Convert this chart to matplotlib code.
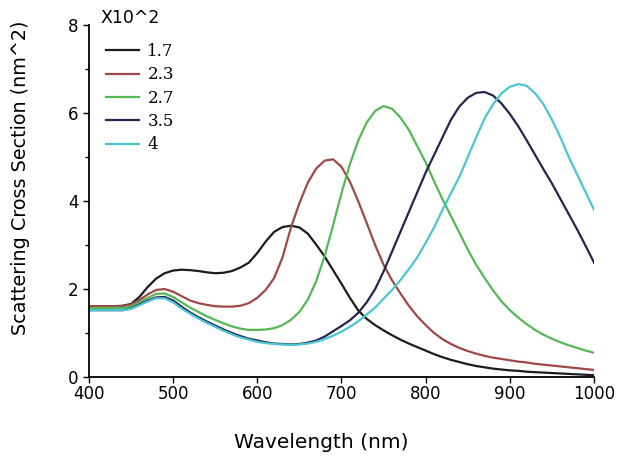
import numpy as np
import matplotlib
matplotlib.use("Agg")
import matplotlib.pyplot as plt
from matplotlib.ticker import MultipleLocator

plt.rcParams['font.family'] = ['DejaVu Sans']

# wavelength grid (nm)
wl = np.arange(400, 1001, 10)

s17 = [1.61, 1.61, 1.61, 1.61, 1.62, 1.66, 1.82, 2.05, 2.24, 2.36,
       2.42, 2.44, 2.43, 2.41, 2.38, 2.36, 2.37, 2.41, 2.49, 2.60,
       2.82, 3.08, 3.30, 3.41, 3.44, 3.40, 3.26, 3.01, 2.74, 2.43,
       2.12, 1.80, 1.51, 1.32, 1.18, 1.06, 0.95, 0.85, 0.76, 0.68,
       0.60, 0.52, 0.45, 0.39, 0.34, 0.29, 0.25, 0.22, 0.19, 0.17,
       0.15, 0.14, 0.12, 0.11, 0.10, 0.09, 0.08, 0.07, 0.06, 0.05, 0.04]
s23 = [1.61, 1.61, 1.61, 1.61, 1.61, 1.65, 1.75, 1.88, 1.98, 2.00,
       1.94, 1.84, 1.74, 1.68, 1.64, 1.61, 1.60, 1.60, 1.62, 1.68,
       1.80, 1.98, 2.25, 2.72, 3.40, 3.95, 4.42, 4.74, 4.92, 4.95,
       4.78, 4.44, 3.99, 3.50, 3.00, 2.55, 2.20, 1.90, 1.62, 1.38,
       1.18, 1.00, 0.86, 0.75, 0.66, 0.59, 0.53, 0.48, 0.44, 0.41,
       0.38, 0.35, 0.33, 0.30, 0.28, 0.26, 0.24, 0.22, 0.20, 0.18, 0.16]
s27 = [1.57, 1.57, 1.57, 1.57, 1.57, 1.60, 1.70, 1.80, 1.89, 1.90,
       1.82, 1.70, 1.58, 1.48, 1.38, 1.30, 1.22, 1.15, 1.10, 1.07,
       1.07, 1.08, 1.11, 1.18, 1.30, 1.48, 1.76, 2.18, 2.75, 3.45,
       4.18, 4.84, 5.38, 5.79, 6.05, 6.16, 6.10, 5.90, 5.62, 5.25,
       4.88, 4.45, 4.04, 3.66, 3.28, 2.90, 2.55, 2.25, 1.97, 1.72,
       1.52, 1.35, 1.20, 1.07, 0.96, 0.87, 0.79, 0.72, 0.66, 0.60, 0.55]
s35 = [1.52, 1.52, 1.52, 1.52, 1.52, 1.56, 1.65, 1.74, 1.81, 1.82,
       1.74, 1.60, 1.47, 1.36, 1.26, 1.17, 1.08, 1.00, 0.93, 0.87,
       0.83, 0.79, 0.76, 0.75, 0.74, 0.75, 0.78, 0.83, 0.92, 1.04,
       1.16, 1.29, 1.46, 1.70, 2.00, 2.40, 2.85, 3.30, 3.75, 4.20,
       4.65, 5.05, 5.45, 5.85, 6.15, 6.35, 6.46, 6.48, 6.40, 6.22,
       5.98, 5.70, 5.38, 5.05, 4.72, 4.40, 4.05, 3.70, 3.35, 2.98, 2.60]
s4 = [1.52, 1.52, 1.52, 1.52, 1.52, 1.55, 1.63, 1.72, 1.79, 1.79,
      1.70, 1.56, 1.44, 1.33, 1.23, 1.14, 1.05, 0.97, 0.90, 0.85,
      0.80, 0.77, 0.75, 0.74, 0.73, 0.74, 0.76, 0.80, 0.86, 0.94,
      1.03, 1.14, 1.27, 1.42, 1.58, 1.78, 1.98, 2.20, 2.45, 2.72,
      3.05, 3.40, 3.80, 4.18, 4.55, 5.00, 5.45, 5.88, 6.20, 6.45,
      6.60, 6.66, 6.62, 6.45, 6.20, 5.85, 5.45, 5.00, 4.60, 4.20, 3.80]

labels = ['1.7', '2.3', '2.7', '3.5', '4']
colors = ['#1c1c1c', '#9e4848', '#55b855', '#25254f', '#4cc4d4']

fig = plt.figure(figsize=(6.26, 4.66), dpi=100)
ax = fig.add_axes([0.142, 0.191, 0.807, 0.755])

for s, lab, c in zip([s17, s23, s27, s35, s4], labels, colors):
    ax.plot(wl, s, color=c, lw=1.6, label=lab)

ax.set_xlim(400, 1000)
ax.set_ylim(0, 8)
ax.set_xticks(range(400, 1001, 100))
ax.set_yticks([0, 2, 4, 6, 8])
ax.yaxis.set_minor_locator(MultipleLocator(1))
ax.spines['top'].set_visible(False)
ax.spines['right'].set_visible(False)
ax.spines['left'].set_linewidth(1.3)
ax.spines['bottom'].set_linewidth(1.3)
ax.tick_params(axis='both', which='major', labelsize=12, length=4, width=1)
ax.tick_params(axis='y', which='minor', length=3, width=1)
ax.tick_params(axis='x', pad=2)

ax.set_xlabel('Wavelength (nm)', fontsize=14.5)
ax.xaxis.set_label_coords(0.46, -0.158)
ax.set_ylabel('Scattering Cross Section (nm^2)', fontsize=13.8)
ax.yaxis.set_label_coords(-0.117, 0.565)

fig.text(0.16, 0.961, 'X10^2', fontsize=12.5, va='center', ha='left')
ax.legend(loc='upper left', bbox_to_anchor=(0.02, 0.968), borderaxespad=0,
          frameon=False, prop={'family': 'DejaVu Serif', 'size': 12},
          handlelength=2.0, labelspacing=0.38, handletextpad=0.5)

fig.savefig('out.png', dpi=100)
